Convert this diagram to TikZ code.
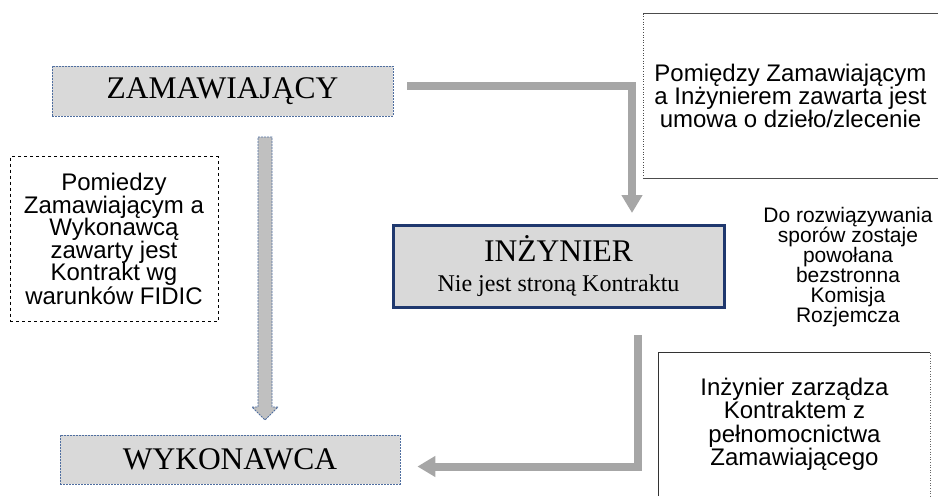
\documentclass[tikz,border=0pt]{standalone}
\usepackage{fontspec}
\setmainfont{Liberation Serif}
\newfontfamily\notefont{Liberation Sans}
\usetikzlibrary{arrows.meta}
\definecolor{boxgray}{RGB}{217,217,217}
\definecolor{arrowgray}{RGB}{166,166,166}
\definecolor{shaftgray}{RGB}{192,192,192}
\definecolor{edgeblue}{RGB}{79,110,160}
\definecolor{navy}{RGB}{31,56,110}
\begin{document}
\begin{tikzpicture}[x=1pt,y=-1pt,
    party/.style={fill=boxgray,draw=edgeblue,line width=0.8pt,dash pattern=on 2pt off 1pt,
      minimum width=341pt,minimum height=50pt,inner sep=0pt,font=\fontsize{31.5}{32}\selectfont},
    note/.style={align=center,inner sep=0pt,font=\notefont\fontsize{24}{22.5}\selectfont},
    flow/.style={arrowgray,line width=8pt,-{Triangle[width=20pt,length=18pt]}}]
    \useasboundingbox (0,0) rectangle (938,496);
    % Parties
    \node[party] (zam) at (222.5,91) {ZAMAWIAJĄCY};
    \node[party,minimum width=340pt,minimum height=49pt] (wyk) at (230,459.5) {WYKONAWCA};
    \node[party,draw=navy,solid,line width=3pt,minimum width=331pt,minimum height=82pt,align=center]
      (inz) at (558.5,266) {INŻYNIER\\[-2pt]{\fontsize{24}{24}\selectfont Nie jest stroną Kontraktu}};
    % Notes
    \node[note,draw,dashed,line width=0.6pt,minimum width=208pt,minimum height=165pt] (fidic) at (114,239)
      {Pomiedzy\\Zamawiającym a\\Wykonawcą\\zawarty jest\\Kontrakt wg\\warunków FIDIC};
    \node[note,minimum width=295pt,minimum height=164pt,font=\notefont\fontsize{24}{23}\selectfont] (umowa) at (790.5,96)
      {Pomiędzy Zamawiającym\\a Inżynierem zawarta jest\\umowa o dzieło/zlecenie};
    \draw[black!70,line width=1.2pt] (umowa.north east) -- (umowa.north west);
    \draw[black!70,line width=1.2pt] (umowa.south west) -- (umowa.south east);
    \draw[black!70,line width=0.6pt,dotted] (umowa.north west) -- (umowa.south west);
    \node[note,font=\notefont\fontsize{21}{20}\selectfont] (komisja) at (848,267)
      {Do rozwiązywania\\sporów zostaje\\powołana\\bezstronna\\Komisja\\Rozjemcza};
    \node[note,minimum width=271pt,minimum height=143pt,font=\notefont\fontsize{24}{23.5}\selectfont] (pelnom) at (794.5,424.5)
      {Inżynier zarządza\\Kontraktem z\\pełnomocnictwa\\Zamawiającego};
    \draw[black!80,line width=0.8pt] (pelnom.south west) -- (pelnom.north west) -- (pelnom.north east);
    \draw[black!60,line width=0.6pt,dotted] (pelnom.north east) -- (pelnom.south east);
    % Arrows
    \coordinate (t1) at (632,213);
    \draw[flow] ([xshift=14pt,yshift=5pt]zam.east) -| (t1);
    \coordinate (b1) at (638,335);
    \draw[flow] (b1) |- ([xshift=17pt,yshift=-7pt]wyk.east);
    \coordinate (va) at (265,137);
    \coordinate (vb) at (265,420);
    \draw[fill=shaftgray,draw=edgeblue,line width=0.8pt,dash pattern=on 2pt off 1pt]
      (va) ++(-7,0) -- ++(14,0) -- ++(0,270) -- ++(6,0) -- (vb) -- ++(-13,-13) -- ++(6,0) -- cycle;
\end{tikzpicture}
\end{document}
